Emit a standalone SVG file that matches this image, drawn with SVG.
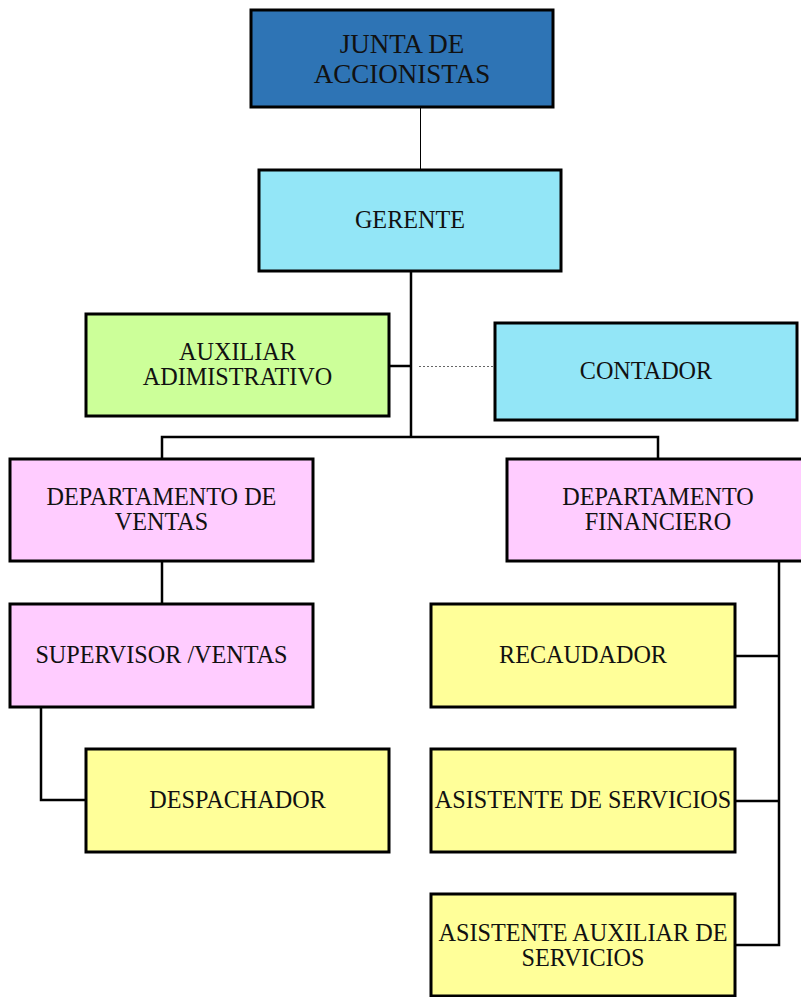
<svg xmlns="http://www.w3.org/2000/svg" width="801" height="997" viewBox="0 0 801 997">
  <style>
    .box { stroke: #000; stroke-width: 3; }
    .blue { fill: #2e74b5; }
    .cyan { fill: #93e6f7; }
    .green { fill: #ccff99; }
    .pink { fill: #ffccff; }
    .yellow { fill: #ffff99; }
    .lbl { font-family: "Liberation Serif", "Times New Roman", serif; font-size: 24.2px; fill: #111; text-anchor: middle; }
    .big { font-size: 27px; }
    .wire { fill: none; stroke: #000; stroke-width: 2.5; }
    .thin { fill: none; stroke: #000; stroke-width: 1; }
    .dots { fill: none; stroke: #666; stroke-width: 1; stroke-dasharray: 2 2; }
  </style>
  <rect width="801" height="997" fill="#fff"/>

  <!-- connectors -->
  <g id="connectors">
    <line class="thin" x1="420.5" y1="107" x2="420.5" y2="169"/>
    <line class="wire" x1="411" y1="271" x2="411" y2="438"/>
    <line class="wire" x1="389" y1="366" x2="411" y2="366"/>
    <line class="dots" x1="419" y1="366.5" x2="494" y2="366.5"/>
    <polyline class="wire" points="162,459 162,437 658,437 658,459"/>
    <line class="wire" x1="162" y1="561" x2="162" y2="604"/>
    <polyline class="wire" points="41,707 41,800 86,800"/>
    <polyline class="wire" points="779,561 779,945 735,945"/>
    <line class="wire" x1="735" y1="656" x2="779" y2="656"/>
    <line class="wire" x1="735" y1="801" x2="779" y2="801"/>
  </g>

  <g id="junta">
    <rect class="box blue" x="251" y="10" width="302" height="97"/>
    <text class="lbl big" x="402" y="53">JUNTA DE</text>
    <text class="lbl big" x="402" y="83">ACCIONISTAS</text>
  </g>

  <g id="gerente">
    <rect class="box cyan" x="259" y="170" width="302" height="101"/>
    <text class="lbl" x="410" y="228">GERENTE</text>
  </g>

  <g id="auxiliar">
    <rect class="box green" x="86" y="314" width="303" height="102"/>
    <text class="lbl" x="237.5" y="360">AUXILIAR</text>
    <text class="lbl" x="237.5" y="385">ADIMISTRATIVO</text>
  </g>

  <g id="contador">
    <rect class="box cyan" x="495" y="323" width="302" height="97"/>
    <text class="lbl" x="646" y="379">CONTADOR</text>
  </g>

  <g id="dep-ventas">
    <rect class="box pink" x="10" y="459" width="303" height="102"/>
    <text class="lbl" x="161.5" y="505">DEPARTAMENTO DE</text>
    <text class="lbl" x="161.5" y="530">VENTAS</text>
  </g>

  <g id="dep-financiero">
    <rect class="box pink" x="507" y="459" width="302" height="102"/>
    <text class="lbl" x="658" y="505">DEPARTAMENTO</text>
    <text class="lbl" x="658" y="530">FINANCIERO</text>
  </g>

  <g id="supervisor">
    <rect class="box pink" x="10" y="604" width="303" height="103"/>
    <text class="lbl" x="161.5" y="663">SUPERVISOR /VENTAS</text>
  </g>

  <g id="despachador">
    <rect class="box yellow" x="86" y="749" width="303" height="103"/>
    <text class="lbl" x="237.5" y="808">DESPACHADOR</text>
  </g>

  <g id="recaudador">
    <rect class="box yellow" x="431" y="604" width="304" height="103"/>
    <text class="lbl" x="583" y="663">RECAUDADOR</text>
  </g>

  <g id="asistente-servicios">
    <rect class="box yellow" x="431" y="749" width="304" height="103"/>
    <text class="lbl" x="583" y="808">ASISTENTE DE SERVICIOS</text>
  </g>

  <g id="asistente-auxiliar">
    <rect class="box yellow" x="431" y="894" width="304" height="102"/>
    <text class="lbl" x="583" y="941">ASISTENTE AUXILIAR DE</text>
    <text class="lbl" x="583" y="966">SERVICIOS</text>
  </g>
</svg>
